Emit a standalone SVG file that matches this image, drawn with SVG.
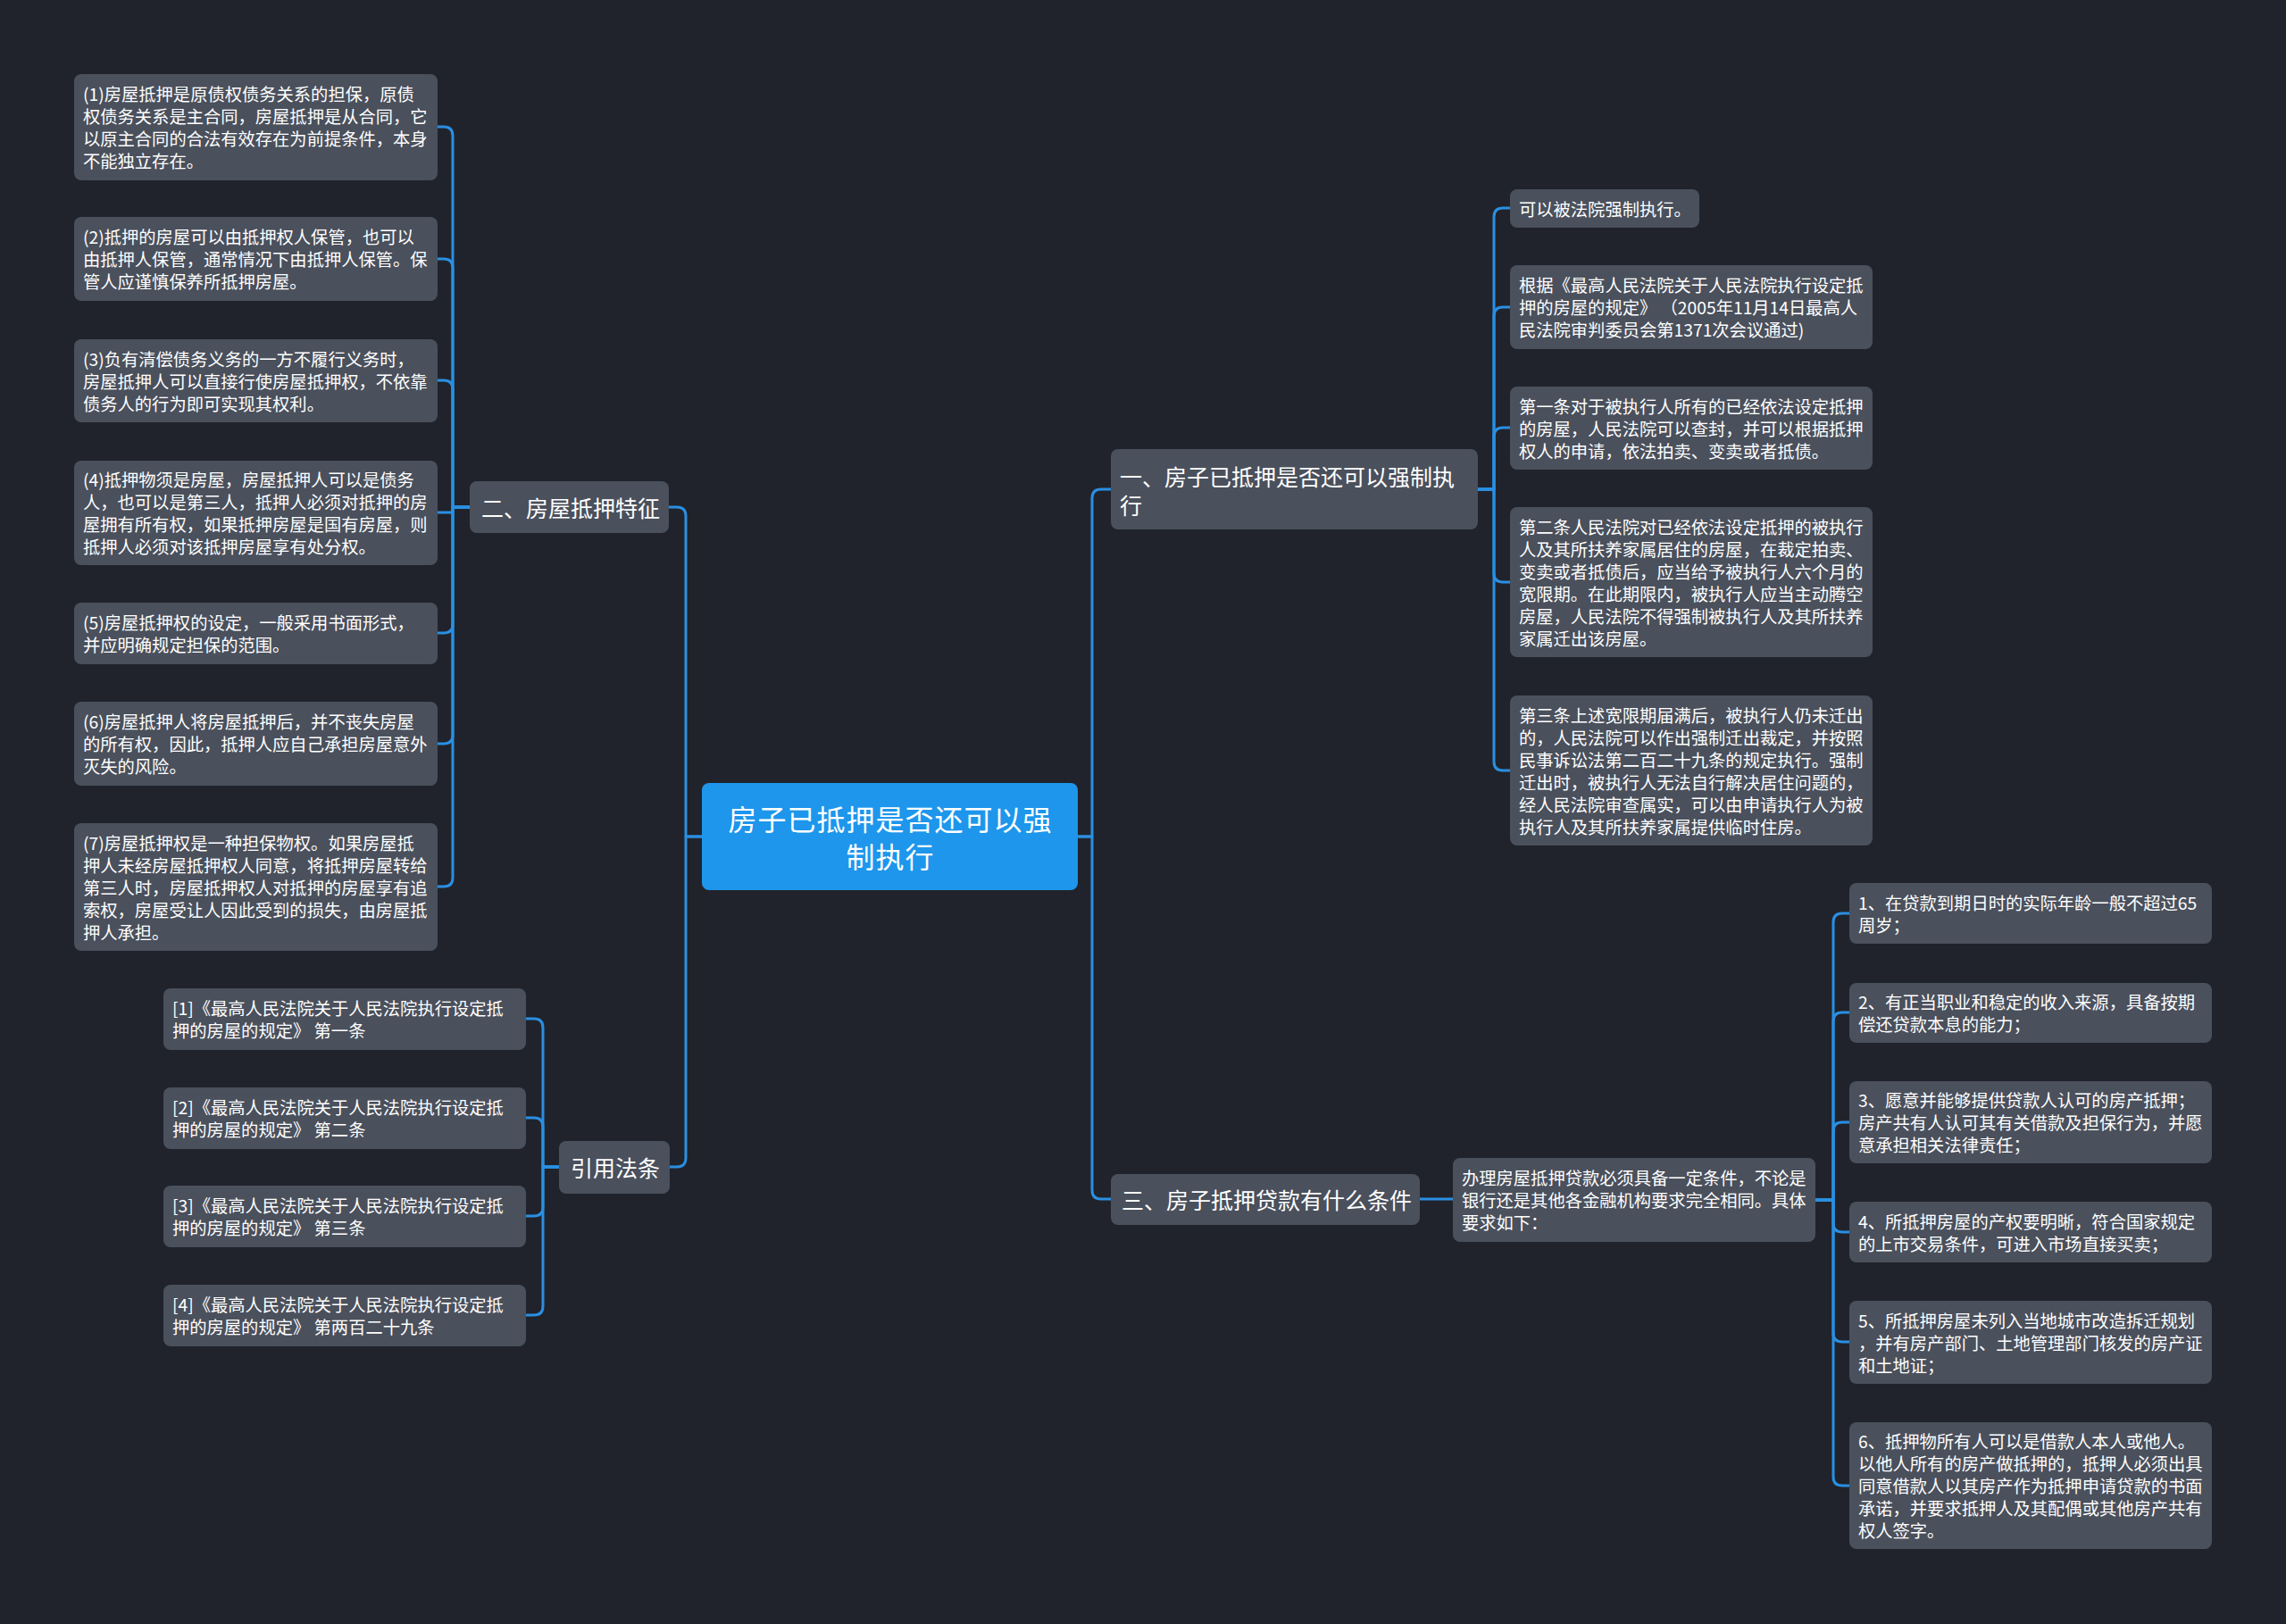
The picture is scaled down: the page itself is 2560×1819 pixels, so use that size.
<svg xmlns="http://www.w3.org/2000/svg" width="2560" height="1819" viewBox="0 0 2560 1819">
<style>
.bg{fill:#20232b}
.n{fill:#4a505c}
.root{fill:#1d96ec}
.t{font-family:"Noto Sans CJK SC","Noto Sans",sans-serif;fill:#ffffff;dominant-baseline:central}
.s{font-size:19.3px}
.m{font-size:25px}
.l{font-size:32px;letter-spacing:1px;text-anchor:middle}
.c{fill:none;stroke:#2a8fe2;stroke-width:3;stroke-linecap:round;stroke-linejoin:round}
</style>
<rect class="bg" x="0" y="0" width="2560" height="1819"/>

<g id="connectors">
<path class="c" d="M786 937 H768 V578 Q768 568 758 568 H749"/>
<path class="c" d="M786 937 H768 V1297 Q768 1307 758 1307 H750"/>
<path class="c" d="M1207 937 H1223 V558 Q1223 548 1233 548 H1244"/>
<path class="c" d="M1207 937 H1223 V1333 Q1223 1343 1233 1343 H1244"/>
<path class="c" d="M526 568 H507 V152 Q507 142 497 142 H490"/>
<path class="c" d="M526 568 H507 V300 Q507 290 497 290 H490"/>
<path class="c" d="M526 568 H507 V436 Q507 426 497 426 H490"/>
<path class="c" d="M526 568 H507 V571 Q507 574 504 574 H490"/>
<path class="c" d="M526 568 H507 V699 Q507 709 497 709 H490"/>
<path class="c" d="M526 568 H507 V823 Q507 833 497 833 H490"/>
<path class="c" d="M526 568 H507 V983 Q507 993 497 993 H490"/>
<path class="c" d="M626 1307 H608 V1151 Q608 1141 598 1141 H589"/>
<path class="c" d="M626 1307 H608 V1262 Q608 1252 598 1252 H589"/>
<path class="c" d="M626 1307 H608 V1352 Q608 1362 598 1362 H589"/>
<path class="c" d="M626 1307 H608 V1463 Q608 1473 598 1473 H589"/>
<path class="c" d="M1655 548 H1673 V243 Q1673 233 1683 233 H1691"/>
<path class="c" d="M1655 548 H1673 V354 Q1673 344 1683 344 H1691"/>
<path class="c" d="M1655 548 H1673 V489 Q1673 479 1683 479 H1691"/>
<path class="c" d="M1655 548 H1673 V642 Q1673 652 1683 652 H1691"/>
<path class="c" d="M1655 548 H1673 V853 Q1673 863 1683 863 H1691"/>
<path class="c" d="M1590 1343 H1627"/>
<path class="c" d="M2033 1344 H2053 V1033 Q2053 1023 2063 1023 H2071"/>
<path class="c" d="M2033 1344 H2053 V1144 Q2053 1134 2063 1134 H2071"/>
<path class="c" d="M2033 1344 H2053 V1267 Q2053 1257 2063 1257 H2071"/>
<path class="c" d="M2033 1344 H2053 V1370 Q2053 1380 2063 1380 H2071"/>
<path class="c" d="M2033 1344 H2053 V1493 Q2053 1503 2063 1503 H2071"/>
<path class="c" d="M2033 1344 H2053 V1654 Q2053 1664 2063 1664 H2071"/>
</g>

<g id="root">
<rect class="root" x="786" y="877" width="421" height="120" rx="8"/>
<text class="t l" x="997" y="916">房子已抵押是否还可以强</text>
<text class="t l" x="997" y="958">制执行</text>
</g>

<g id="b2">
<rect class="n" x="526" y="539" width="223" height="58" rx="8"/>
<text class="t m" x="539" y="568">二、房屋抵押特征</text>
</g>
<g id="l1">
<rect class="n" x="83" y="83" width="407" height="119" rx="8"/>
<text class="t s" x="93" y="105">(1)房屋抵押是原债权债务关系的担保，原债</text>
<text class="t s" x="93" y="130">权债务关系是主合同，房屋抵押是从合同，它</text>
<text class="t s" x="93" y="155">以原主合同的合法有效存在为前提条件，本身</text>
<text class="t s" x="93" y="180">不能独立存在。</text>
</g>
<g id="l2">
<rect class="n" x="83" y="243" width="407" height="94" rx="8"/>
<text class="t s" x="93" y="265">(2)抵押的房屋可以由抵押权人保管，也可以</text>
<text class="t s" x="93" y="290">由抵押人保管，通常情况下由抵押人保管。保</text>
<text class="t s" x="93" y="315">管人应谨慎保养所抵押房屋。</text>
</g>
<g id="l3">
<rect class="n" x="83" y="380" width="407" height="93" rx="8"/>
<text class="t s" x="93" y="401.5">(3)负有清偿债务义务的一方不履行义务时，</text>
<text class="t s" x="93" y="426.5">房屋抵押人可以直接行使房屋抵押权，不依靠</text>
<text class="t s" x="93" y="451.5">债务人的行为即可实现其权利。</text>
</g>
<g id="l4">
<rect class="n" x="83" y="516" width="407" height="117" rx="8"/>
<text class="t s" x="93" y="537">(4)抵押物须是房屋，房屋抵押人可以是债务</text>
<text class="t s" x="93" y="562">人，也可以是第三人，抵押人必须对抵押的房</text>
<text class="t s" x="93" y="587">屋拥有所有权，如果抵押房屋是国有房屋，则</text>
<text class="t s" x="93" y="612">抵押人必须对该抵押房屋享有处分权。</text>
</g>
<g id="l5">
<rect class="n" x="83" y="675" width="407" height="69" rx="8"/>
<text class="t s" x="93" y="697">(5)房屋抵押权的设定，一般采用书面形式，</text>
<text class="t s" x="93" y="722">并应明确规定担保的范围。</text>
</g>
<g id="l6">
<rect class="n" x="83" y="786" width="407" height="94" rx="8"/>
<text class="t s" x="93" y="808">(6)房屋抵押人将房屋抵押后，并不丧失房屋</text>
<text class="t s" x="93" y="833">的所有权，因此，抵押人应自己承担房屋意外</text>
<text class="t s" x="93" y="858">灭失的风险。</text>
</g>
<g id="l7">
<rect class="n" x="83" y="922" width="407" height="143" rx="8"/>
<text class="t s" x="93" y="943.5">(7)房屋抵押权是一种担保物权。如果房屋抵</text>
<text class="t s" x="93" y="968.5">押人未经房屋抵押权人同意，将抵押房屋转给</text>
<text class="t s" x="93" y="993.5">第三人时，房屋抵押权人对抵押的房屋享有追</text>
<text class="t s" x="93" y="1018.5">索权，房屋受让人因此受到的损失，由房屋抵</text>
<text class="t s" x="93" y="1043.5">押人承担。</text>
</g>

<g id="b4">
<rect class="n" x="626" y="1278" width="124" height="59" rx="8"/>
<text class="t m" x="639" y="1307">引用法条</text>
</g>
<g id="r1">
<rect class="n" x="183" y="1107" width="406" height="69" rx="8"/>
<text class="t s" x="193" y="1129">[1]《最高人民法院关于人民法院执行设定抵</text>
<text class="t s" x="193" y="1154">押的房屋的规定》 第一条</text>
</g>
<g id="r2">
<rect class="n" x="183" y="1218" width="406" height="69" rx="8"/>
<text class="t s" x="193" y="1240">[2]《最高人民法院关于人民法院执行设定抵</text>
<text class="t s" x="193" y="1265">押的房屋的规定》 第二条</text>
</g>
<g id="r3">
<rect class="n" x="183" y="1328" width="406" height="69" rx="8"/>
<text class="t s" x="193" y="1350">[3]《最高人民法院关于人民法院执行设定抵</text>
<text class="t s" x="193" y="1375">押的房屋的规定》 第三条</text>
</g>
<g id="r4">
<rect class="n" x="183" y="1439" width="406" height="69" rx="8"/>
<text class="t s" x="193" y="1461">[4]《最高人民法院关于人民法院执行设定抵</text>
<text class="t s" x="193" y="1486">押的房屋的规定》 第两百二十九条</text>
</g>

<g id="b1">
<rect class="n" x="1244" y="503" width="411" height="90" rx="8"/>
<text class="t m" x="1254" y="533">一、房子已抵押是否还可以强制执</text>
<text class="t m" x="1254" y="565">行</text>
</g>
<g id="a1">
<rect class="n" x="1691" y="212" width="212" height="43" rx="8"/>
<text class="t s" x="1701" y="234">可以被法院强制执行。</text>
</g>
<g id="a2">
<rect class="n" x="1691" y="297" width="406" height="94" rx="8"/>
<text class="t s" x="1701" y="319">根据《最高人民法院关于人民法院执行设定抵</text>
<text class="t s" x="1701" y="344">押的房屋的规定》 （2005年11月14日最高人</text>
<text class="t s" x="1701" y="369">民法院审判委员会第1371次会议通过)</text>
</g>
<g id="a3">
<rect class="n" x="1691" y="433" width="406" height="93" rx="8"/>
<text class="t s" x="1701" y="454.5">第一条对于被执行人所有的已经依法设定抵押</text>
<text class="t s" x="1701" y="479.5">的房屋，人民法院可以查封，并可以根据抵押</text>
<text class="t s" x="1701" y="504.5">权人的申请，依法拍卖、变卖或者抵债。</text>
</g>
<g id="a4">
<rect class="n" x="1691" y="568" width="406" height="168" rx="8"/>
<text class="t s" x="1701" y="590">第二条人民法院对已经依法设定抵押的被执行</text>
<text class="t s" x="1701" y="615">人及其所扶养家属居住的房屋，在裁定拍卖、</text>
<text class="t s" x="1701" y="640">变卖或者抵债后，应当给予被执行人六个月的</text>
<text class="t s" x="1701" y="665">宽限期。在此期限内，被执行人应当主动腾空</text>
<text class="t s" x="1701" y="690">房屋，人民法院不得强制被执行人及其所扶养</text>
<text class="t s" x="1701" y="715">家属迁出该房屋。</text>
</g>
<g id="a5">
<rect class="n" x="1691" y="779" width="406" height="168" rx="8"/>
<text class="t s" x="1701" y="801">第三条上述宽限期届满后，被执行人仍未迁出</text>
<text class="t s" x="1701" y="826">的，人民法院可以作出强制迁出裁定，并按照</text>
<text class="t s" x="1701" y="851">民事诉讼法第二百二十九条的规定执行。强制</text>
<text class="t s" x="1701" y="876">迁出时，被执行人无法自行解决居住问题的，</text>
<text class="t s" x="1701" y="901">经人民法院审查属实，可以由申请执行人为被</text>
<text class="t s" x="1701" y="926">执行人及其所扶养家属提供临时住房。</text>
</g>

<g id="b3">
<rect class="n" x="1244" y="1315" width="346" height="57" rx="8"/>
<text class="t m" x="1256" y="1343">三、房子抵押贷款有什么条件</text>
</g>
<g id="mid">
<rect class="n" x="1627" y="1297" width="406" height="94" rx="8"/>
<text class="t s" x="1637" y="1319">办理房屋抵押贷款必须具备一定条件，不论是</text>
<text class="t s" x="1637" y="1344">银行还是其他各金融机构要求完全相同。具体</text>
<text class="t s" x="1637" y="1369">要求如下：</text>
</g>
<g id="c1">
<rect class="n" x="2071" y="989" width="406" height="68" rx="8"/>
<text class="t s" x="2081" y="1010.5">1、在贷款到期日时的实际年龄一般不超过65</text>
<text class="t s" x="2081" y="1035.5">周岁；</text>
</g>
<g id="c2">
<rect class="n" x="2071" y="1101" width="406" height="67" rx="8"/>
<text class="t s" x="2081" y="1122">2、有正当职业和稳定的收入来源，具备按期</text>
<text class="t s" x="2081" y="1147">偿还贷款本息的能力；</text>
</g>
<g id="c3">
<rect class="n" x="2071" y="1211" width="406" height="92" rx="8"/>
<text class="t s" x="2081" y="1232">3、愿意并能够提供贷款人认可的房产抵押；</text>
<text class="t s" x="2081" y="1257">房产共有人认可其有关借款及担保行为，并愿</text>
<text class="t s" x="2081" y="1282">意承担相关法律责任；</text>
</g>
<g id="c4">
<rect class="n" x="2071" y="1346" width="406" height="68" rx="8"/>
<text class="t s" x="2081" y="1367.5">4、所抵押房屋的产权要明晰，符合国家规定</text>
<text class="t s" x="2081" y="1392.5">的上市交易条件，可进入市场直接买卖；</text>
</g>
<g id="c5">
<rect class="n" x="2071" y="1457" width="406" height="93" rx="8"/>
<text class="t s" x="2081" y="1478.5">5、所抵押房屋未列入当地城市改造拆迁规划</text>
<text class="t s" x="2081" y="1503.5">，并有房产部门、土地管理部门核发的房产证</text>
<text class="t s" x="2081" y="1528.5">和土地证；</text>
</g>
<g id="c6">
<rect class="n" x="2071" y="1593" width="406" height="142" rx="8"/>
<text class="t s" x="2081" y="1614">6、抵押物所有人可以是借款人本人或他人。</text>
<text class="t s" x="2081" y="1639">以他人所有的房产做抵押的，抵押人必须出具</text>
<text class="t s" x="2081" y="1664">同意借款人以其房产作为抵押申请贷款的书面</text>
<text class="t s" x="2081" y="1689">承诺，并要求抵押人及其配偶或其他房产共有</text>
<text class="t s" x="2081" y="1714">权人签字。</text>
</g>
</svg>
